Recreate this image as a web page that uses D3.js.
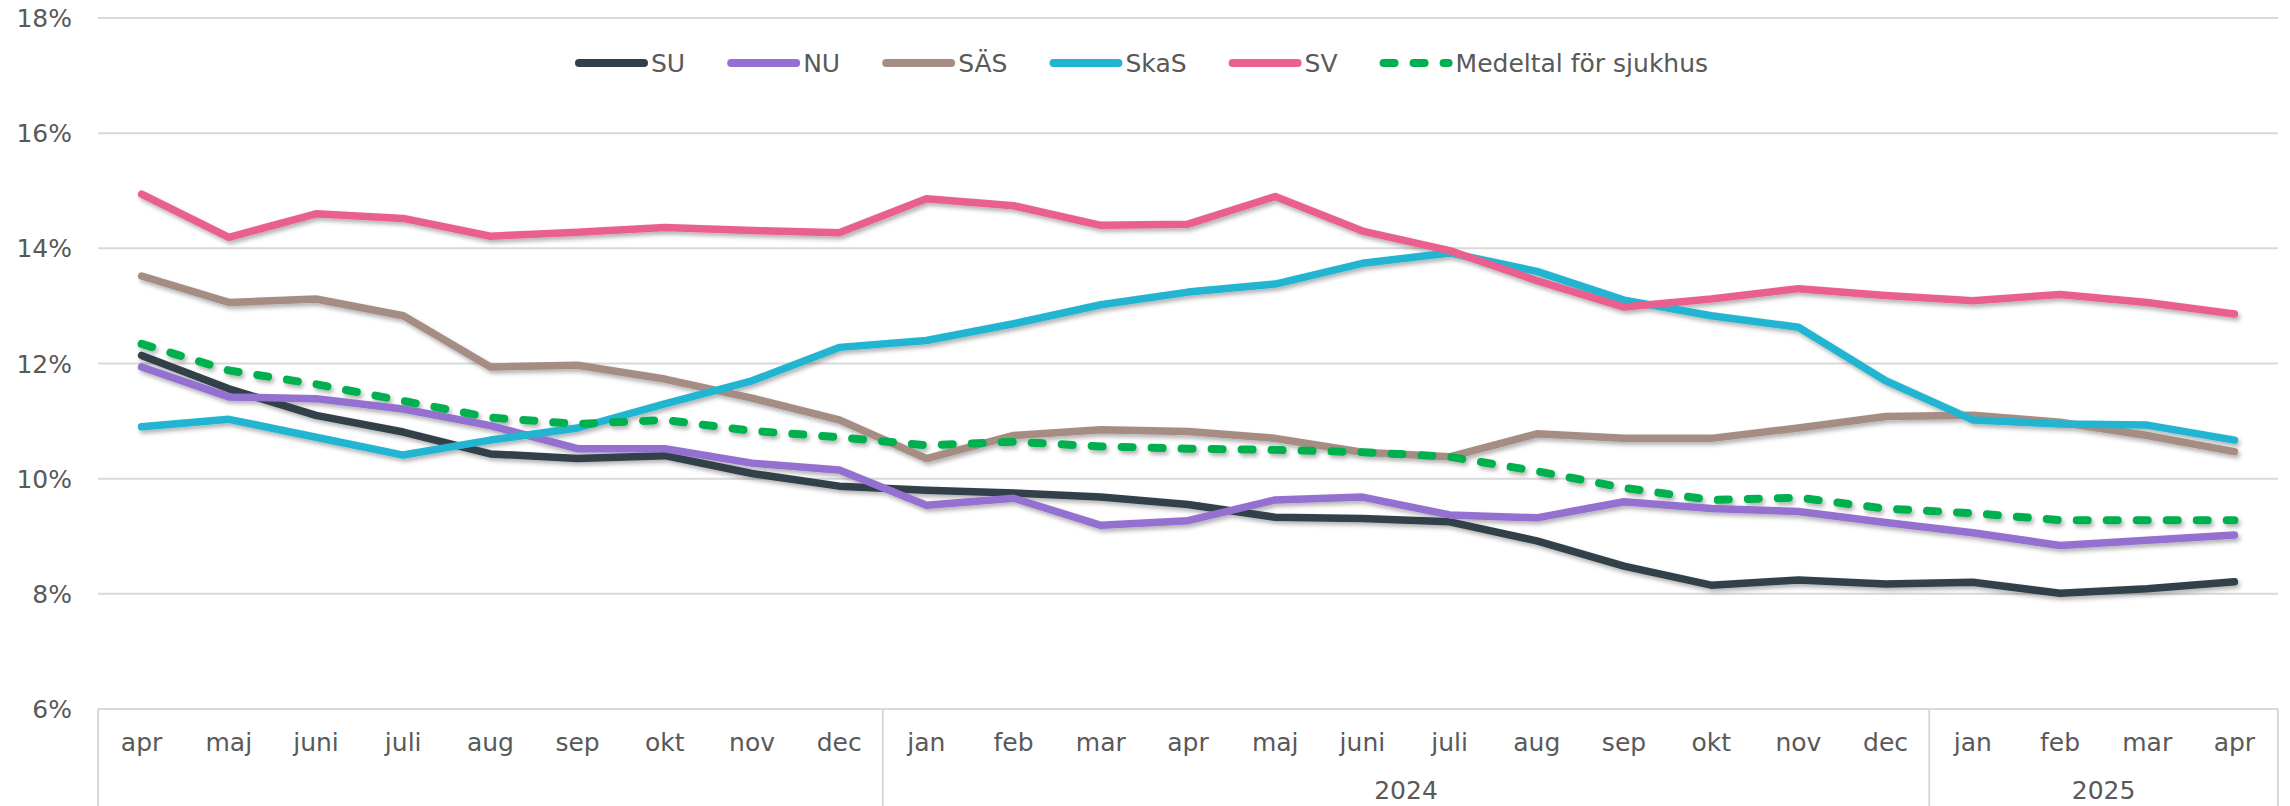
<!DOCTYPE html>
<html>
<head>
<meta charset="utf-8">
<script src="https://cdn.jsdelivr.net/npm/d3@7"></script>
<style>
  body { margin: 0; background: #fff; }
  text { font-family: "DejaVu Sans", Verdana, sans-serif; fill: #595959; }
</style>
</head>
<body>
<div id="chart"></div>
<script>
// month labels along the x axis (apr 2023 - apr 2025)
const months = ["apr","maj","juni","juli","aug","sep","okt","nov","dec",
  "jan","feb","mar","apr","maj","juni","juli","aug","sep","okt","nov","dec",
  "jan","feb","mar","apr"];

// year groups: label + number of months
const yearLabels = ["", "2024", "2025"];
const yearCounts = [9, 12, 4];

const yTicks = [6, 8, 10, 12, 14, 16, 18];

// series values in %
const SU = [12.14, 11.56, 11.10, 10.81, 10.43, 10.35, 10.40, 10.09, 9.87, 9.80, 9.75, 9.68, 9.55,
  9.33, 9.31, 9.25, 8.92, 8.48, 8.15, 8.24, 8.17, 8.20, 8.01, 8.09, 8.21];
const NU = [11.94, 11.42, 11.39, 11.21, 10.92, 10.52, 10.52, 10.27, 10.15, 9.54, 9.66, 9.19, 9.27,
  9.63, 9.68, 9.37, 9.32, 9.60, 9.48, 9.43, 9.24, 9.06, 8.84, 8.93, 9.02];
const SAS = [13.52, 13.06, 13.12, 12.83, 11.94, 11.97, 11.73, 11.40, 11.02, 10.35, 10.75, 10.85, 10.82,
  10.70, 10.46, 10.38, 10.78, 10.70, 10.70, 10.88, 11.08, 11.10, 10.98, 10.75, 10.47];
const SkaS = [10.90, 11.03, 10.72, 10.41, 10.67, 10.88, 11.30, 11.70, 12.28, 12.40, 12.69, 13.02, 13.24,
  13.38, 13.74, 13.92, 13.60, 13.10, 12.83, 12.63, 11.70, 11.02, 10.95, 10.93, 10.67];
const SV = [14.94, 14.19, 14.60, 14.52, 14.21, 14.28, 14.36, 14.31, 14.27, 14.86, 14.74, 14.40, 14.42,
  14.90, 14.30, 13.96, 13.44, 12.98, 13.12, 13.30, 13.18, 13.09, 13.20, 13.06, 12.86];
const Medel = [12.34, 11.88, 11.64, 11.35, 11.06, 10.95, 11.02, 10.83, 10.72, 10.58, 10.64, 10.56, 10.52,
  10.50, 10.46, 10.38, 10.13, 9.84, 9.63, 9.67, 9.48, 9.40, 9.28, 9.28, 9.28];

const series = [
  { name: "SU", values: SU, color: "#333f48" },
  { name: "NU", values: NU, color: "#9470d0" },
  { name: "SÄS", values: SAS, color: "#a68d84" },
  { name: "SkaS", values: SkaS, color: "#22b5d1" },
  { name: "SV", values: SV, color: "#e9618f" },
  { name: "Medeltal för sjukhus", values: Medel, color: "#00b050", dashed: true }
];

const W = 2290, H = 806;
const margin = { top: 18, right: 12, bottom: 97, left: 98 };
const fontSize = "25px";

const svg = d3.select("#chart").append("svg")
  .attr("width", W).attr("height", H);

// drop shadow under the lines
const defs = svg.append("defs");
defs.append("filter").attr("id", "shadow")
  .attr("x", "-5%").attr("y", "-20%").attr("width", "110%").attr("height", "140%")
  .append("feDropShadow")
  .attr("dx", 2).attr("dy", 3).attr("stdDeviation", 2)
  .attr("flood-color", "#000").attr("flood-opacity", 0.3);

const x = d3.scaleBand()
  .domain(d3.range(months.length))
  .range([margin.left, W - margin.right])
  .padding(0);

const y = d3.scaleLinear()
  .domain([6, 18])
  .range([H - margin.bottom, margin.top]);

// gridlines
svg.append("g")
  .selectAll("line")
  .data(yTicks)
  .enter().append("line")
  .attr("x1", margin.left).attr("x2", W - margin.right)
  .attr("y1", d => y(d)).attr("y2", d => y(d))
  .attr("stroke", "#d9d9d9").attr("stroke-width", 2);

// y tick labels
svg.append("g")
  .selectAll("text")
  .data(yTicks)
  .enter().append("text")
  .attr("x", 72).attr("y", d => y(d))
  .attr("dy", "0.36em")
  .attr("text-anchor", "end")
  .style("font-size", fontSize)
  .text(d => d + "%");

// category axis box with year separators
const axisTop = y(6);
let start = 0;
const bounds = [0];
yearCounts.forEach(c => { start += c; bounds.push(start); });

svg.append("g")
  .selectAll("line")
  .data(bounds)
  .enter().append("line")
  .attr("x1", d => d < months.length ? x(d) : x(months.length - 1) + x.bandwidth())
  .attr("x2", d => d < months.length ? x(d) : x(months.length - 1) + x.bandwidth())
  .attr("y1", axisTop).attr("y2", H)
  .attr("stroke", "#d9d9d9").attr("stroke-width", 2);

svg.append("g")
  .selectAll("text")
  .data(months)
  .enter().append("text")
  .attr("x", (d, i) => x(i) + x.bandwidth() / 2)
  .attr("y", 751)
  .attr("text-anchor", "middle")
  .style("font-size", fontSize)
  .text(d => d);

svg.append("g")
  .selectAll("text")
  .data(yearLabels)
  .enter().append("text")
  .attr("x", (d, i) => {
    const a = x(bounds[i]);
    const b = x(bounds[i + 1] - 1) + x.bandwidth();
    return (a + b) / 2;
  })
  .attr("y", 799)
  .attr("text-anchor", "middle")
  .style("font-size", fontSize)
  .text(d => d);

// lines
const line = d3.line()
  .x((d, i) => x(i) + x.bandwidth() / 2)
  .y(d => y(d));

svg.append("g")
  .attr("filter", "url(#shadow)")
  .selectAll("path")
  .data(series)
  .enter().append("path")
  .attr("d", d => line(d.values))
  .attr("fill", "none")
  .attr("stroke", d => d.color)
  .attr("stroke-width", d => d.dashed ? 8 : 7.5)
  .attr("stroke-linejoin", "round")
  .attr("stroke-linecap", "round")
  .attr("stroke-dasharray", d => d.dashed ? "11 19" : null);

// legend
const legend = svg.append("g").attr("transform", "translate(575,63)");
let lx = 0;
series.forEach(s => {
  const g = legend.append("g").attr("transform", `translate(${lx},0)`);
  g.append("line")
    .attr("x1", 4).attr("x2", 69)
    .attr("stroke", s.color).attr("stroke-width", 8)
    .attr("stroke-linecap", "round")
    .attr("stroke-dasharray", s.dashed ? "11 19" : null);
  const t = g.append("text")
    .attr("x", 76).attr("dy", "0.36em")
    .style("font-size", fontSize)
    .text(s.name);
  lx += 76 + t.node().getComputedTextLength() + 42;
});
</script>
</body>
</html>
